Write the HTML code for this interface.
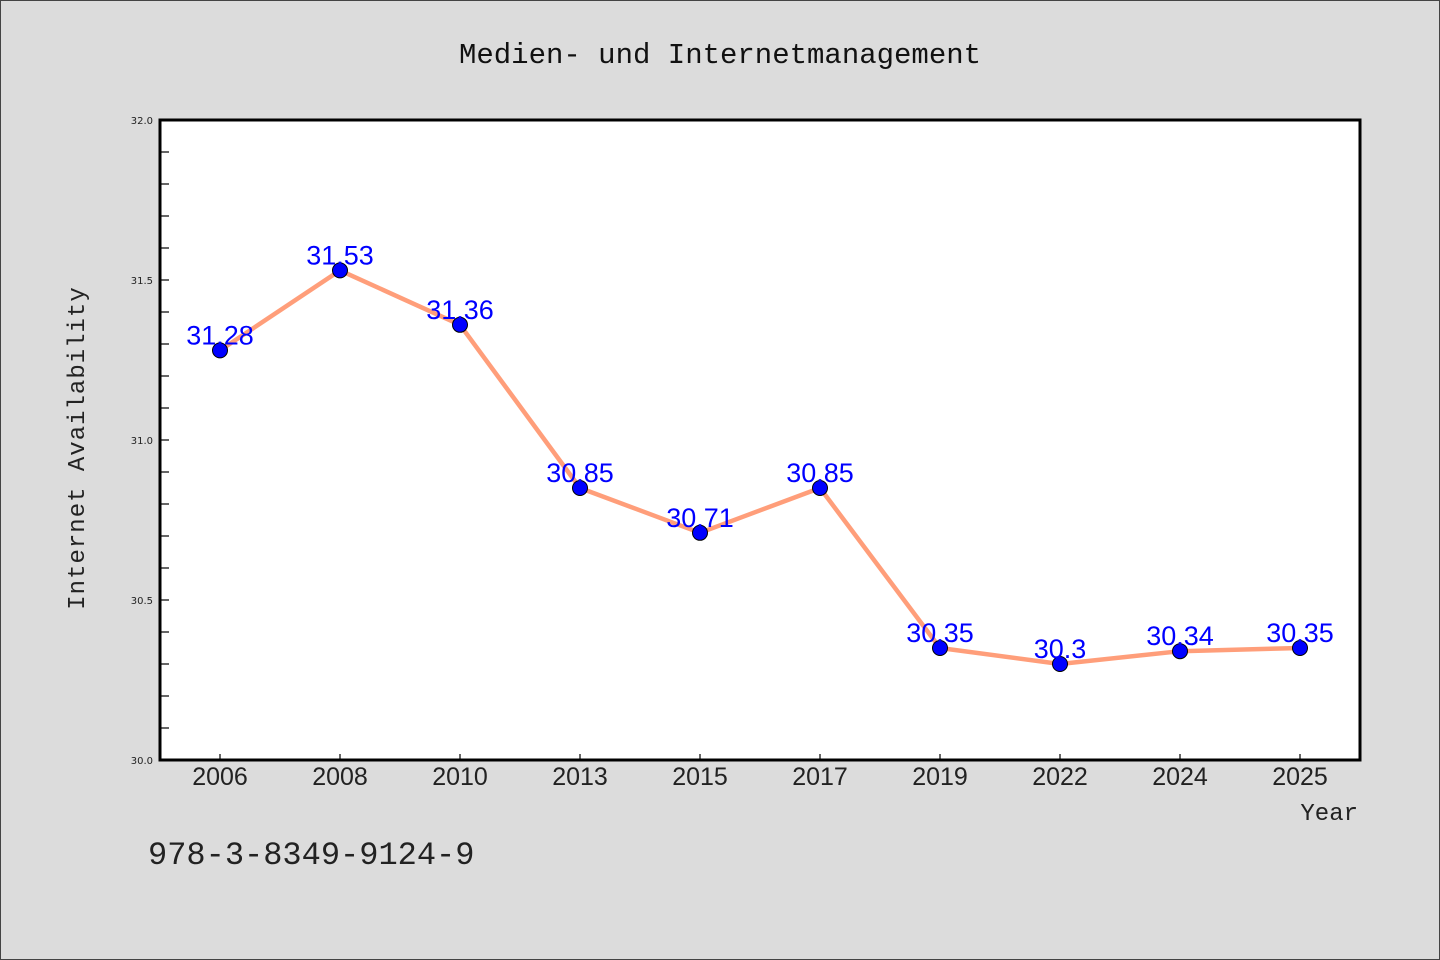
<!DOCTYPE html>
<html><head><meta charset="utf-8"><style>
html,body{margin:0;padding:0;background:#dcdcdc;}
svg{display:block;}
</style></head><body>
<svg width="1440" height="960" xmlns="http://www.w3.org/2000/svg">
<rect x="0.5" y="0.5" width="1439" height="959" fill="#dcdcdc" stroke="#444"/>
<text x="720" y="63" text-anchor="middle" font-family="'WenQuanYi Zen Hei','Liberation Mono',monospace" font-size="29" fill="#111">Medien- und Internetmanagement</text>
<rect x="160" y="120" width="1200" height="640" fill="#fff"/>
<g id="yticks"></g><g id="xticks"></g>
<rect x="160" y="120" width="1200" height="640" fill="none" stroke="#000" stroke-width="3"/>
<g id="series"></g>
<text transform="translate(84,448) rotate(-90)" text-anchor="middle" font-family="'WenQuanYi Zen Hei','Liberation Mono',monospace" font-size="24" fill="#222" letter-spacing="1">Internet Availability</text>
<text x="1358" y="820" text-anchor="end" font-family="'WenQuanYi Zen Hei','Liberation Mono',monospace" font-size="24" fill="#222">Year</text>
<text x="148" y="864" font-family="'WenQuanYi Zen Hei','Liberation Mono',monospace" font-size="32" fill="#222">978-3-8349-9124-9</text>
</svg>
<script>
const categories = ["2006","2008","2010","2013","2015","2017","2019","2022","2024","2025"];
const values = [31.28,31.53,31.36,30.85,30.71,30.85,30.35,30.3,30.34,30.35];
const labels = ["31.28","31.53","31.36","30.85","30.71","30.85","30.35","30.3","30.34","30.35"];
const yTickLabels = ["30.0","30.5","31.0","31.5","32.0"];
const yMin=30, yMax=32;
const NS="http://www.w3.org/2000/svg";
function y(v){return 760-(v-yMin)/(yMax-yMin)*640;}
function x(i){return 220+i*120;}
function mk(tag,attrs,parent){const e=document.createElementNS(NS,tag);for(const k in attrs)e.setAttribute(k,attrs[k]);parent.appendChild(e);return e;}
const yt=document.getElementById('yticks');
for(let k=0;k<=20;k++){
  const v=yMin+k*0.1;
  if(k>0&&k<20){const l=mk('line',{x1:160,x2:169,y1:y(v),y2:y(v),stroke:'#000','stroke-width':1.2},yt);
  
  }
}
yTickLabels.forEach(s=>{
  const t=mk('text',{x:153,y:y(parseFloat(s))+4,'text-anchor':'end','font-family':"'DejaVu Sans',sans-serif",'font-size':10,fill:'#222'},yt);
  t.textContent=s;
  
  
});
const xt=document.getElementById('xticks');
categories.forEach((c,i)=>{
  const l=mk('line',{x1:x(i),x2:x(i),y1:760,y2:754,stroke:'#000','stroke-width':1.2},xt);
  
  
  const t=mk('text',{x:x(i),y:785,'text-anchor':'middle','font-family':"'WenQuanYi Zen Hei','Liberation Sans',sans-serif",'font-size':25,fill:'#222'},xt);
  t.textContent=c;
  
  
});
const sg=document.getElementById('series');
const pl=mk('polyline',{points:values.map((v,i)=>x(i)+','+y(v)).join(' '),fill:'none',stroke:'#ff9e7a','stroke-width':4.5,'stroke-linejoin':'round'},sg);


values.forEach((v,i)=>{
  const c=mk('circle',{cx:x(i),cy:y(v),r:7.5,fill:'#0000ff',stroke:'#000','stroke-width':1},sg);
  
  
});
values.forEach((v,i)=>{
  const t=mk('text',{x:x(i),y:y(v)-6,'text-anchor':'middle','font-family':"'Liberation Sans',sans-serif",'font-size':27,fill:'#0000ff'},sg);
  t.textContent=labels[i];
  
  
});
</script>
</body></html>
